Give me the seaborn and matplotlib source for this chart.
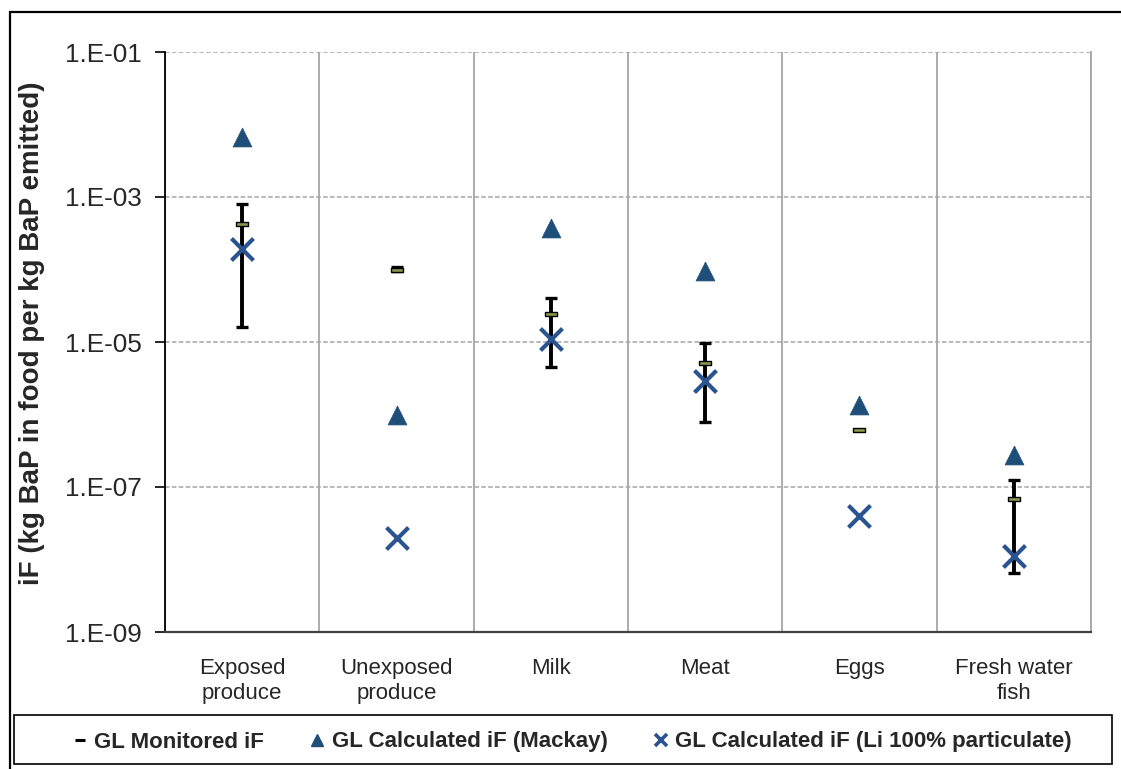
import matplotlib
matplotlib.use("Agg")
import matplotlib.pyplot as plt
import matplotlib.ticker as mticker
from matplotlib.lines import Line2D
from matplotlib.patches import Rectangle
import numpy as np
import pandas as pd
import seaborn as sns

categories = ["Exposed\nproduce", "Unexposed\nproduce", "Milk", "Meat", "Eggs", "Fresh water\nfish"]
monitored = [4.3e-4, 1.0e-4, 2.4e-5, 5.1e-6, 6.1e-7, 6.8e-8]
monitored_low = [1.6e-5, 9.4e-5, 4.5e-6, 7.9e-7, np.nan, 6.5e-9]
monitored_high = [7.9e-4, 1.07e-4, 4.1e-5, 9.8e-6, np.nan, 1.25e-7]
mackay = [6.7e-3, 1.0e-6, 3.7e-4, 9.5e-5, 1.35e-6, 2.8e-7]
li_particulate = [1.9e-4, 2.0e-8, 1.1e-5, 2.9e-6, 4.0e-8, 1.1e-8]

labels = ["GL Monitored iF", "GL Calculated iF (Mackay)", "GL Calculated iF (Li 100% particulate)"]
tri_color = "#1F4E79"
x_color = "#2A5490"
dash_fill = "#8A9A4A"

sns.set_theme(style="white")
plt.rcParams["font.family"] = ["Liberation Sans", "DejaVu Sans"]

pos = np.arange(len(categories))
df = pd.DataFrame({
    "pos": pos,
    "monitored": monitored,
    "low": monitored_low,
    "high": monitored_high,
    "mackay": mackay,
    "li": li_particulate,
})

fig = plt.figure(figsize=(11.21, 7.69), dpi=100)
ax = fig.add_axes([165 / 1121, 1 - 632 / 769, 926 / 1121, 580 / 769])

# error bars for the monitored values
eb = df.dropna(subset=["low", "high"])
ax.errorbar(eb["pos"], eb["monitored"],
            yerr=[eb["monitored"] - eb["low"], eb["high"] - eb["monitored"]],
            fmt="none", ecolor="black", elinewidth=2.8, capsize=4.5, capthick=2.4, zorder=3)

dash = [(-1, -0.35), (1, -0.35), (1, 0.35), (-1, 0.35), (-1, -0.35)]
sns.scatterplot(data=df, x="pos", y="monitored", marker=dash, s=70, color=dash_fill,
                edgecolor="black", linewidth=1.0, ax=ax, zorder=4)
sns.scatterplot(data=df, x="pos", y="mackay", marker="^", s=185, color=tri_color,
                edgecolor=tri_color, linewidth=0.5, ax=ax, zorder=4)
sns.scatterplot(data=df, x="pos", y="li", marker="x", s=250, color=x_color,
                linewidth=3.0, ax=ax, zorder=5)

ax.set_yscale("log")
ax.set_ylim(1e-9, 1e-1)
ax.set_xlim(-0.5, len(categories) - 0.5)
ax.yaxis.set_major_locator(mticker.FixedLocator([1e-9, 1e-7, 1e-5, 1e-3, 1e-1]))
ax.yaxis.set_minor_locator(mticker.NullLocator())
ax.yaxis.set_major_formatter(mticker.FuncFormatter(
    lambda v, _: "1.E-%02d" % round(-np.log10(v))))

ax.set_xticks(pos)
ax.set_xticklabels(categories, fontsize=16, linespacing=1.2)
ax.set_xticks(np.arange(len(categories) + 1) - 0.5, minor=True)
ax.tick_params(axis="x", which="major", length=0, pad=19)
ax.tick_params(axis="x", which="minor", length=7, width=1.2, color="#333333", direction="out")
ax.tick_params(axis="y", which="major", length=7, width=1.2, color="black", direction="out",
               labelsize=18.8, pad=9.5, left=True)

ax.grid(False)
ax.grid(axis="x", which="minor", color="#A6A6A6", linestyle="-", linewidth=1.3)
ax.grid(axis="y", which="major", color="#A6A6A6", linestyle=(0, (3, 1.5)), linewidth=1.1)

ax.spines["left"].set_color("black")
ax.spines["left"].set_linewidth(1.3)
ax.spines["bottom"].set_color("#404040")
ax.spines["bottom"].set_linewidth(1.6)
ax.spines["right"].set_color("#A6A6A6")
ax.spines["right"].set_linewidth(1.3)
ax.spines["top"].set_visible(False)

ax.set_xlabel("")
ax.set_ylabel("iF (kg BaP in food per kg BaP emitted)", fontsize=20, fontweight="bold")
ax.yaxis.set_label_coords(-0.13, 0.515)

# outer frame of the chart area
fig.patches.append(Rectangle((10 / 1121, -0.05), 1.2, 1 - 11.5 / 769 + 0.05,
                             transform=fig.transFigure, fill=False,
                             edgecolor="black", linewidth=1.6))
# legend box
fig.patches.append(Rectangle((14 / 1121, 1 - 764 / 769), 1098 / 1121, 49 / 769,
                             transform=fig.transFigure, fill=False,
                             edgecolor="black", linewidth=1.2))

handles = [
    Line2D([], [], linestyle="none", marker="_", markersize=7, markeredgewidth=2.2, color="black"),
    Line2D([], [], linestyle="none", marker="^", markersize=8, color=tri_color),
    Line2D([], [], linestyle="none", marker="x", markersize=9, markeredgewidth=2.6, color=x_color),
]
fig.legend(handles, labels, loc="center", bbox_to_anchor=(0.5 + 12 / 1121, 1 - 742 / 769), ncol=3,
           frameon=False, handlelength=0.6, handletextpad=0.35, columnspacing=2.1,
           prop={"size": 16, "weight": "bold"})

fig.savefig("out.png", dpi=100)
